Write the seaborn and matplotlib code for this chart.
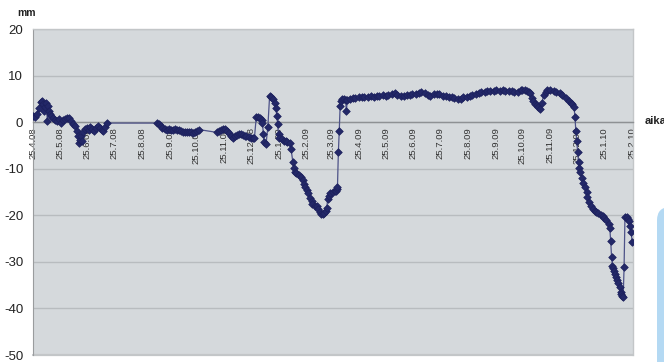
import pandas as pd
import matplotlib
matplotlib.use("Agg")
import matplotlib.pyplot as plt
import matplotlib.patches as mpatches
import seaborn as sns

# Measurement series: days elapsed since the first reading, and displacement in mm
START = "2008-04-25"
day = [
    0, 2, 4, 7, 9, 10, 11, 12, 13, 15, 16, 17, 18, 19, 20, 22, 25, 27, 29, 31,
    34, 36, 38, 40, 43, 45, 47, 49, 50, 51, 53, 54, 55, 56, 58, 60, 63, 64, 66, 68,
    70, 73, 75, 77, 78, 81, 83,
    139, 141, 143, 145, 148, 150, 152, 154, 157, 159, 161, 163, 166, 168, 170, 172,
    175, 177, 179, 181, 184, 186,
    206, 208, 210, 213, 215, 217, 219, 222, 224, 226, 228, 231, 233, 235, 237, 239,
    242, 244, 246, 248, 250, 252, 254, 256, 257, 258, 259, 261, 263, 265, 267, 269,
    271, 272, 273, 274, 275, 276, 279, 281, 283, 285, 288, 289, 291, 292, 293, 295,
    298, 300, 302, 303, 305, 307, 308, 310, 312, 313, 316, 318, 319, 321, 323, 325,
    326, 328, 329, 330, 331, 333, 336, 338, 339, 340, 341, 342, 343, 344, 345, 346,
    348, 350, 351, 352, 355,
    358, 361, 365, 368, 371, 375, 378, 382, 385, 388, 392, 395, 398, 402, 405, 408,
    412, 415, 419, 422, 425, 429, 432, 435, 439, 442, 445, 449, 452, 455, 459, 462,
    466, 469, 472, 476, 479, 482, 486, 489, 492, 496, 499, 502, 506, 509, 512, 516,
    519, 523, 526, 529, 533, 536, 539, 543, 546, 548, 551, 553, 555, 557, 559, 560,
    562, 564, 566, 568, 570, 572, 574, 576, 579, 583, 586, 590, 593, 597, 600, 602,
    604, 606, 607, 608, 609, 610, 611, 612, 613, 615, 616, 618, 620, 621, 623, 625,
    627, 629, 631, 633, 636, 638, 640, 642, 645, 646, 647, 648, 649, 650, 651, 652,
    653, 654, 655, 657, 658, 659, 660, 661, 662, 663, 665, 666, 668, 669, 670, 671,
]
mm = [
    1.4, 1.0, 1.8, 3.0, 4.4, 4.6, 3.8, 2.5, 3.2, 4.2, 0.3, 3.5, 2.5, 1.8, 1.4, 0.9, 0.5, 0.3, 0.6, -0.1,
    0.4, 0.6, 0.9, 0.8, 0.3, -0.3, -0.8, -1.8, -3.0, -4.4, -3.8, -2.9, -4.0, -2.2, -1.5, -1.3, -1.6, -1.1, -1.4, -1.9,
    -1.2, -0.8, -1.3, -1.7, -1.9, -1.0, -0.2,
    -0.2, -0.5, -0.9, -1.3, -1.5, -1.6, -1.5, -1.7, -1.6, -1.5, -1.6, -1.7, -1.9, -2.1, -2.2, -2.2,
    -2.1, -2.2, -2.3, -2.2, -2.0, -1.6,
    -2.2, -1.9, -1.7, -1.5, -1.4, -1.8, -2.4, -2.9, -3.3, -3.0, -2.8, -2.6, -2.6, -2.8, -2.9, -3.0,
    -3.2, -3.4, -3.5, -3.4, 1.0, 1.0, 0.8, 0.4, -0.1, -2.6, -4.2, -4.7, -1.1, 5.6, 5.3, 4.9,
    4.2, 3.0, 1.4, -0.5, -2.6, -3.3, -3.7, -4.0, -4.1, -4.2, -4.4, -5.8, -8.5, -9.8, -10.8, -11.0,
    -11.3, -11.8, -12.5, -13.3, -14.0, -14.6, -15.3, -16.2, -17.0, -17.6, -18.0, -18.1, -18.7, -19.4, -19.7, -19.8,
    -19.5, -19.0, -18.5, -16.5, -15.8, -15.2, -15.0, -14.8, -14.7, -14.4, -14.0, -6.5, -1.9, 3.5, 4.6, 4.9,
    5.0, 4.8, 2.4, 4.8, 5.0,
    5.1, 5.2, 5.3, 5.3, 5.4, 5.5, 5.6, 5.5, 5.6, 5.7, 5.8, 5.7, 5.9, 6.1, 6.2, 5.8,
    5.7, 5.7, 5.9, 5.9, 6.0, 6.0, 6.2, 6.4, 6.2, 5.8, 5.7, 6.0, 6.0, 6.0, 5.7, 5.6,
    5.5, 5.3, 5.1, 5.0, 5.0, 5.3, 5.5, 5.7, 5.9, 6.1, 6.2, 6.4, 6.5, 6.6, 6.7, 6.7,
    6.8, 6.7, 6.8, 6.7, 6.7, 6.6, 6.5, 6.5, 6.8, 7.0, 6.8, 6.6, 6.5, 6.2, 5.2, 4.6,
    4.0, 3.6, 3.2, 2.8, 4.2, 5.8, 6.5, 6.8, 6.9, 6.7, 6.5, 6.2, 5.8, 5.2, 4.6, 4.2,
    3.8, 3.2, 1.0, -1.9, -4.0, -6.5, -8.5, -9.8, -10.8, -12.0, -13.0, -14.0, -15.0, -16.0, -17.2, -18.0,
    -18.6, -19.0, -19.3, -19.6, -19.9, -20.2, -20.6, -21.1, -21.8, -22.8, -25.5, -29.0, -30.8, -31.3, -32.0, -32.6,
    -33.3, -34.0, -34.6, -35.5, -36.4, -37.0, -37.4, -37.6, -31.2, -20.3, -20.4, -20.8, -21.3, -22.3, -23.5, -25.8,
]

tick_labels = [
    "25.4.08", "25.5.08", "25.6.08", "25.7.08", "25.8.08", "25.9.08", "25.10.08",
    "25.11.08", "25.12.08", "25.1.09", "25.2.09", "25.3.09", "25.4.09", "25.5.09",
    "25.6.09", "25.7.09", "25.8.09", "25.9.09", "25.10.09", "25.11.09", "25.12.09",
    "25.1.10", "25.2.10",
]
y_ticks = [20, 10, 0, -10, -20, -30, -40, -50]

sns.set_style("white")
plt.rcParams["font.family"] = ["Liberation Sans", "DejaVu Sans"]

df = pd.DataFrame({
    "date": pd.Timestamp(START) + pd.to_timedelta(day, unit="D"),
    "mm": mm,
})
tick_pos = pd.to_datetime(tick_labels, format="%d.%m.%y")

W, H = 664, 362
fig = plt.figure(figsize=(W / 100, H / 100), dpi=100)
fig.patch.set_facecolor("white")
ax = fig.add_axes([33 / W, 7 / H, 600 / W, 326 / H])
ax.set_facecolor("#d5d9dc")

# connecting line, then diamond markers on top
sns.lineplot(data=df, x="date", y="mm", ax=ax, color="#4d5288", lw=0.9,
             estimator=None, sort=False, zorder=3)
sns.scatterplot(data=df, x="date", y="mm", ax=ax, marker="D", s=15,
                color="#232868", edgecolor="#1c205c", linewidth=0.5, zorder=4)

ax.set_xlim(pd.Timestamp(START), pd.Timestamp("2010-02-26"))
ax.set_ylim(-50, 20)
ax.set_yticks(y_ticks)
ax.set_yticklabels([str(v) for v in y_ticks])
ax.set_xticks(tick_pos)
ax.set_xticklabels(tick_labels)

ax.yaxis.grid(True, color="#b8bcbf", lw=1.0)
ax.xaxis.grid(False)
ax.set_axisbelow(True)

ax.tick_params(axis="y", length=3, width=0.8, color="#9a9a9a", pad=4,
               labelsize=9.5, labelcolor="#222222")
ax.tick_params(axis="x", length=4, width=0.8, color="#8a8a8a", direction="inout",
               pad=1.5, labelsize=6.8, labelcolor="#333333", labelrotation=90)
for lbl in ax.get_xticklabels():
    lbl.set_rotation(90)
    lbl.set_ha("center")
    lbl.set_va("top")

ax.spines["bottom"].set_position(("data", 0))
ax.spines["bottom"].set_color("#8e9194")
ax.spines["bottom"].set_linewidth(1.0)
ax.spines["left"].set_color("#9a9c9e")
for side in ("top", "right"):
    ax.spines[side].set_color("#c3c6c8")
    ax.spines[side].set_linewidth(1.0)
ax.axhline(-50, color="#c3c6c8", lw=1.6, clip_on=False, zorder=1)

ax.set_xlabel("")
ax.set_ylabel("")

fig.text(26 / W, 1 - 13 / H, "mm", ha="center", va="center",
         fontsize=7.5, fontweight="bold", color="#222222")
fig.text(645 / W, 1 - 121 / H, "aika", ha="left", va="center",
         fontsize=8, fontweight="bold", color="#222222")

# pale blue panel at the lower right edge
panel = mpatches.FancyBboxPatch(
    (657 / W, -0.1), 0.06, 0.1 + 155 / H,
    boxstyle="round,pad=0,rounding_size=0.02", mutation_aspect=W / H,
    transform=fig.transFigure, facecolor="#b4d9f3", edgecolor="none",
    clip_on=False,
)
fig.patches.append(panel)

fig.savefig("out.png", dpi=100, facecolor="white")
